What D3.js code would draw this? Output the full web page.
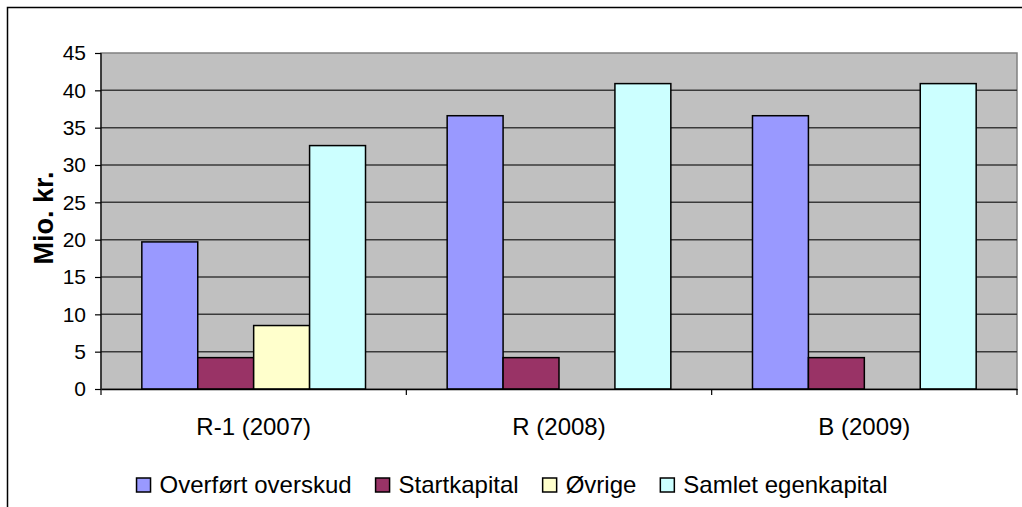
<!DOCTYPE html>
<html>
<head>
<meta charset="utf-8">
<script src="https://cdn.jsdelivr.net/npm/d3@7"></script>
<style>
  html, body { margin: 0; padding: 0; background: #fff; }
  svg { display: block; font-family: "Liberation Sans", Arial, sans-serif; }
</style>
</head>
<body>
<svg id="chart" width="1022" height="507"></svg>
<script>
(function(){

	var categories = ["R-1 (2007)", "R (2008)", "B (2009)"];
	var seriesNames = ["Overført overskud", "Startkapital", "Øvrige", "Samlet egenkapital"];
	var overfort = [19.7, 36.6, 36.6];
	var startkapital = [4.2, 4.2, 4.2];
	var ovrige = [8.5, 0, 0];
	var samlet = [32.6, 40.9, 40.9];
	var yTicks = [0, 5, 10, 15, 20, 25, 30, 35, 40, 45];
	var colors = ["#9999ff", "#993366", "#ffffcc", "#ccffff"];

	var seriesValues = [overfort, startkapital, ovrige, samlet];

	var svg = d3.select("#chart");
	var plot = { left : 101, right : 1017, top : 53, bottom : 389 };

	var x0 = d3.scaleBand().domain(categories).range([plot.left, plot.right]);
	var x1 = d3.scaleBand().domain(seriesNames).range([0, x0.bandwidth()]).paddingOuter(0.73);
	var y = d3.scaleLinear().domain([0, 45]).range([plot.bottom, plot.top]);

	// outer chart frame (right and bottom edges fall outside the picture)
	svg.append("rect")
		.attr("x", 7.5).attr("y", 7.5)
		.attr("width", 1100).attr("height", 600)
		.attr("fill", "#fff").attr("stroke", "#000").attr("stroke-width", 1.5);

	// plot background
	svg.append("rect")
		.attr("x", plot.left).attr("y", plot.top)
		.attr("width", plot.right - plot.left).attr("height", plot.bottom - plot.top)
		.attr("fill", "#c0c0c0").attr("stroke", "#808080").attr("stroke-width", 1.5);

	// gridlines
	svg.append("g").selectAll("line").data(yTicks.filter(function(d){ return d > 0 && d < 45; })).enter()
		.append("line")
		.attr("x1", plot.left).attr("x2", plot.right)
		.attr("y1", function(d){ return y(d); }).attr("y2", function(d){ return y(d); })
		.attr("stroke", "#3a3a3a").attr("stroke-width", 1.5);

	// bars
	var groups = svg.append("g").selectAll("g").data(categories).enter()
		.append("g")
		.attr("transform", function(d){ return "translate(" + x0(d) + ",0)"; });

	groups.selectAll("rect")
		.data(function(d, i){
			return seriesNames.map(function(s, j){ return { name : s, value : seriesValues[j][i], color : colors[j] }; })
				.filter(function(b){ return b.value > 0; });
		})
		.enter().append("rect")
		.attr("x", function(d){ return x1(d.name); })
		.attr("y", function(d){ return y(d.value); })
		.attr("width", x1.bandwidth())
		.attr("height", function(d){ return y(0) - y(d.value); })
		.attr("fill", function(d){ return d.color; })
		.attr("stroke", "#000").attr("stroke-width", 1.5);

	// y axis
	var yAxis = svg.append("g")
		.attr("transform", "translate(" + plot.left + ",0)")
		.call(d3.axisLeft(y).tickValues(yTicks).tickSize(6).tickPadding(9));
	yAxis.select(".domain").attr("d", "M0," + plot.top + "V" + (plot.bottom + 6)).attr("stroke", "#000").attr("stroke-width", 1.2);
	yAxis.selectAll(".tick line").attr("stroke", "#000").attr("stroke-width", 1.2);
	yAxis.selectAll("text").style("font-size", "21px").attr("fill", "#000");

	// x axis
	var xAxis = svg.append("g")
		.attr("transform", "translate(0," + plot.bottom + ")")
		.call(d3.axisBottom(x0).tickSize(0).tickPadding(29));
	xAxis.select(".domain").attr("stroke", "#000").attr("stroke-width", 1.5);
	xAxis.selectAll("text").style("font-size", "24px").attr("fill", "#000");
	xAxis.selectAll(".sep").data(categories.slice(1).concat([null])).enter()
		.append("line")
		.attr("class", "sep")
		.attr("x1", function(d){ return d ? x0(d) : plot.right; })
		.attr("x2", function(d){ return d ? x0(d) : plot.right; })
		.attr("y1", 0).attr("y2", 6)
		.attr("stroke", "#000").attr("stroke-width", 1.2);

	// y axis title
	svg.append("text")
		.attr("transform", "translate(53," + ((plot.top + plot.bottom) / 2 - 3) + ") rotate(-90)")
		.attr("text-anchor", "middle")
		.style("font-size", "27px").style("font-weight", "bold")
		.text("Mio. kr.");

	// legend
	var legend = svg.append("g").attr("transform", "translate(0,485)");
	var items = legend.selectAll("g").data(seriesNames).enter().append("g");
	items.append("rect")
		.attr("x", 0).attr("y", -7).attr("width", 14).attr("height", 14)
		.attr("fill", function(d, i){ return colors[i]; })
		.attr("stroke", "#000").attr("stroke-width", 1.5);
	items.append("text")
		.attr("x", 23).attr("dy", "0.35em")
		.style("font-size", "24px")
		.text(function(d){ return d; });

	var gap = 24;
	var offset = 0;
	var widths = [];
	items.each(function(){
		var w = 23 + d3.select(this).select("text").node().getComputedTextLength();
		widths.push(w);
	});
	var total = d3.sum(widths) + gap * (widths.length - 1);
	offset = 512 - total / 2;
	items.attr("transform", function(d, i){
		var pos = offset;
		offset += widths[i] + gap;
		return "translate(" + pos + ",0)";
	});

})();
</script>
</body>
</html>
